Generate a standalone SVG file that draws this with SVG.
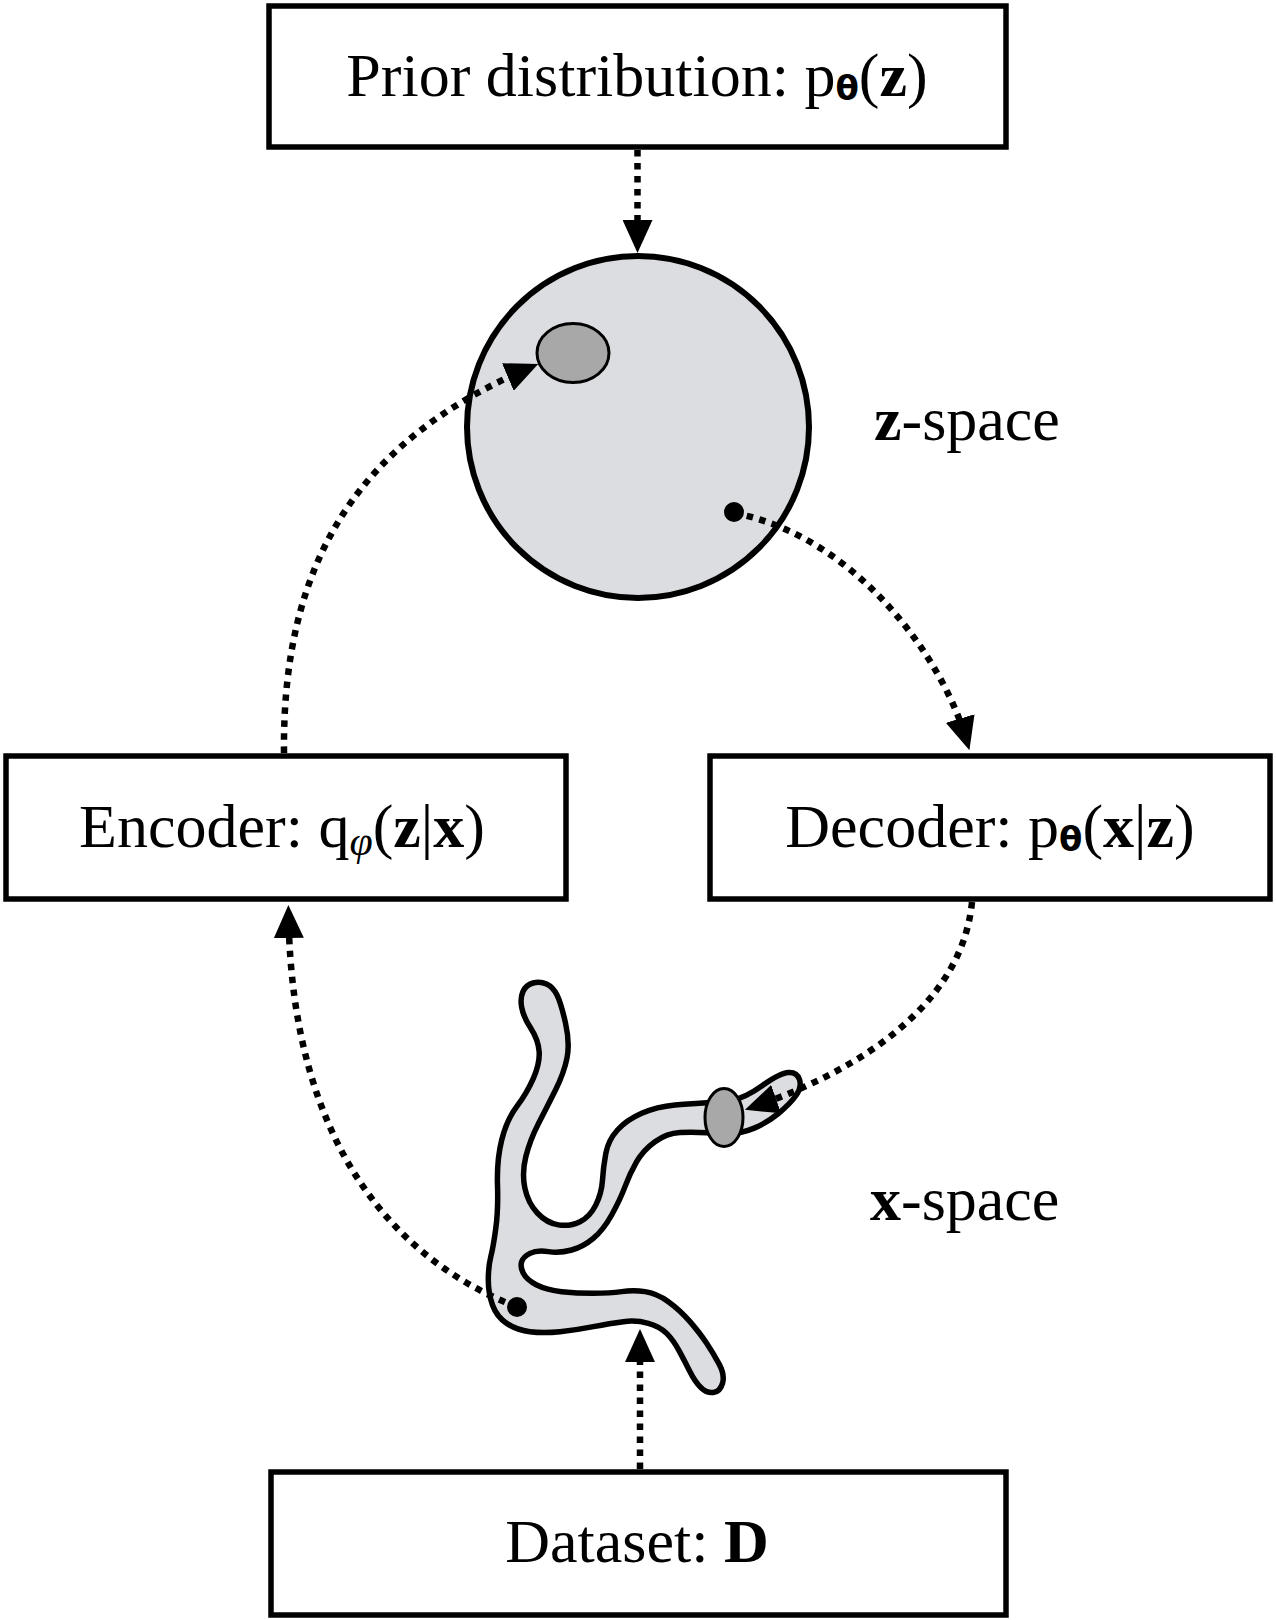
<svg xmlns="http://www.w3.org/2000/svg" width="1276" height="1620" viewBox="0 0 1276 1620">
<style>
.box{fill:#fff;stroke:#000;stroke-width:5.5}
.lbl{font-family:"Liberation Serif","Times New Roman",serif;font-size:62px;fill:#000}
.b{font-weight:bold}
.sub{font-family:"DejaVu Sans",sans-serif;font-weight:bold;font-size:34px}
.subi{font-family:"Liberation Serif",serif;font-style:italic;font-size:42px}
.con{fill:none;stroke:#000;stroke-width:6.5;stroke-dasharray:6.5 6.5}
.space{fill:#dcdde0;stroke:#000;stroke-width:6}
.blob{fill:#dcdde0;stroke:#000;stroke-width:5.5;stroke-linejoin:round}
.spot{fill:#a7a8a7;stroke:#000;stroke-width:3}
</style>
<defs>
<marker id="ah" viewBox="0 0 33 30" refX="23" refY="15" markerWidth="33" markerHeight="30" markerUnits="userSpaceOnUse" orient="auto"><path d="M0,0 L33,15 L0,30 Z" fill="#000"/></marker>
</defs>
<rect width="1276" height="1620" fill="#fff"/>

<g id="prior">
<rect class="box" x="269" y="6" width="737" height="141"/>
<text class="lbl" x="637" y="96" text-anchor="middle">Prior distribution: p<tspan class="sub" dy="4">θ</tspan><tspan dy="-4">(</tspan><tspan class="b">z</tspan>)</text>
</g>

<g id="z-space">
<circle class="space" cx="638" cy="427" r="171"/>
<ellipse class="spot" cx="573" cy="353" rx="36" ry="29.5"/>
<circle cx="734" cy="512" r="10" fill="#000"/>
<text class="lbl" x="874" y="440"><tspan class="b">z</tspan>-space</text>
</g>

<g id="encoder">
<rect class="box" x="6" y="756" width="560" height="143"/>
<text class="lbl" x="282" y="847" text-anchor="middle">Encoder: q<tspan class="subi" dy="8">φ</tspan><tspan dy="-8">(</tspan><tspan class="b">z</tspan>|<tspan class="b">x</tspan>)</text>
</g>

<g id="decoder">
<rect class="box" x="710" y="756" width="560" height="143"/>
<text class="lbl" x="990" y="847" text-anchor="middle">Decoder: p<tspan class="sub" dy="4">θ</tspan><tspan dy="-4">(</tspan><tspan class="b">x</tspan>|<tspan class="b">z</tspan>)</text>
</g>

<g id="x-space">
<path class="blob" d="M521.65,1007.35 Q520,998 523,991.5 Q526,985 533,983 Q540,981 546.5,984 Q553,987 557,995 Q561,1003 565.5,1023 Q570,1043 567,1058 Q564,1073 555.5,1090 Q547,1107 538.5,1123.5 Q530,1140 525.85,1156.5 Q521.7,1173 524.85,1188 Q528,1203 537.35,1213 Q546.7,1223 558.35,1224.85 Q570,1226.7 580,1221.7 Q590,1216.7 595.85,1204.85 Q601.7,1193 602.5,1180 Q603.3,1167 605.8,1153.5 Q608.3,1140 617.5,1130 Q626.7,1120 641.7,1113.35 Q656.7,1106.7 675,1105 Q693.3,1103.3 706.65,1102.65 Q720,1102 732.5,1100 Q745,1098 762.5,1085.5 Q780,1073 788.5,1072.5 Q797,1072 799.5,1079.5 Q802,1087 796,1095.5 Q790,1104 778.35,1113.5 Q766.7,1123 754.2,1128.15 Q741.7,1133.3 730.85,1133.65 Q720,1134 706.65,1132.85 Q693.3,1131.7 680,1132.5 Q666.7,1133.3 655,1141.65 Q643.3,1150 636.65,1161.65 Q630,1173.3 625,1186.65 Q620,1200 611.65,1215 Q603.3,1230 593.3,1238.35 Q583.3,1246.7 571.65,1250 Q560,1253.3 548.35,1251.65 Q536.7,1250 530,1253.35 Q523.3,1256.7 521.65,1261.7 Q520,1266.7 523.35,1273.35 Q526.7,1280 536.7,1285 Q546.7,1290 561.7,1291.65 Q576.7,1293.3 593.35,1293.3 Q610,1293.3 621.65,1291.65 Q633.3,1290 645,1291.65 Q656.7,1293.3 668.35,1301.65 Q680,1310 690,1321.65 Q700,1333.3 706.65,1343.3 Q713.3,1353.3 719.15,1364.15 Q725,1375 722.5,1383.35 Q720,1391.7 713.35,1392.5 Q706.7,1393.3 700.85,1387.5 Q695,1381.7 690,1371.7 Q685,1361.7 679.15,1350.85 Q673.3,1340 666.65,1333.35 Q660,1326.7 648.35,1323.35 Q636.7,1320 623.35,1321.65 Q610,1323.3 593.35,1326.65 Q576.7,1330 560,1331.65 Q543.3,1333.3 530,1331.65 Q516.7,1330 506.7,1323.35 Q496.7,1316.7 492.5,1305 Q488.3,1293.3 488.3,1280 Q488.3,1266.7 490.8,1256.7 Q493.3,1246.7 495.8,1228.35 Q498.3,1210 497.5,1185 Q496.7,1160 501.7,1140 Q506.7,1120 516.7,1106.65 Q526.7,1093.3 533.35,1078.3 Q540,1063.3 539.15,1051.65 Q538.3,1040 530.8,1028.35 Q523.3,1016.7 521.65,1007.35 Z"/>
<ellipse class="spot" cx="724" cy="1117.5" rx="19" ry="29"/>
<circle cx="517" cy="1307" r="10" fill="#000"/>
<text class="lbl" x="870" y="1220"><tspan class="b">x</tspan>-space</text>
</g>

<g id="dataset">
<rect class="box" x="271" y="1472" width="735" height="143"/>
<text class="lbl" x="637" y="1562" text-anchor="middle">Dataset: <tspan class="b">D</tspan></text>
</g>

<g id="connectors">
<path class="con" d="M637.5,150 L637.5,243" marker-end="url(#ah)"/>
<path class="con" d="M284,753 C282,560 360,440 529,368" marker-end="url(#ah)"/>
<path class="con" d="M734,513 C850,535 940,650 966.6,740.6" marker-end="url(#ah)"/>
<path class="con" d="M972,902 C962,1005 860,1070 754.4,1106.6" marker-end="url(#ah)"/>
<path class="con" d="M517,1307 C400,1262 292,1150 288.5,915" marker-end="url(#ah)"/>
<path class="con" d="M640,1469 L640,1339" marker-end="url(#ah)"/>
</g>
</svg>
